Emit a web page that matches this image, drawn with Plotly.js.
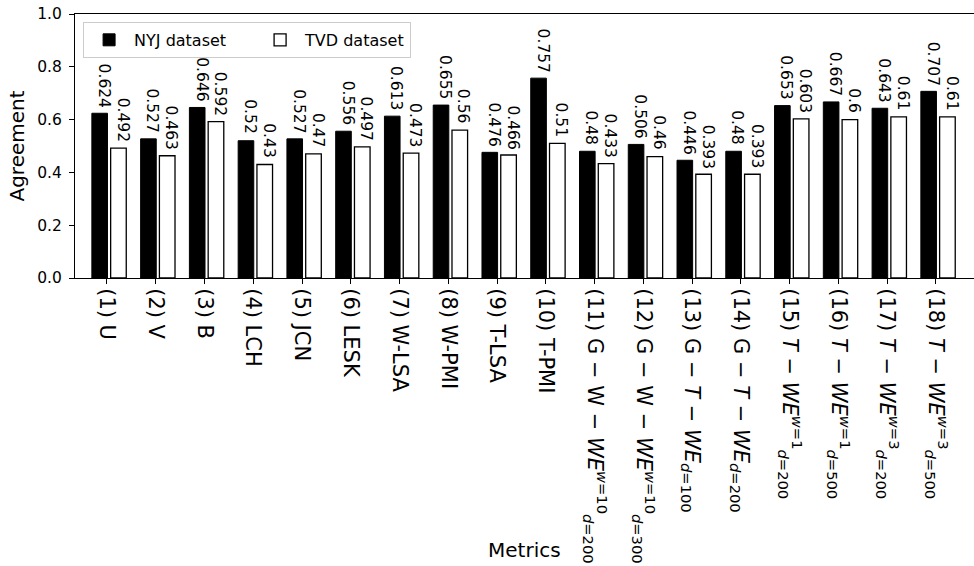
<!DOCTYPE html>
<html>
<head>
<meta charset="utf-8">
<script src="https://cdn.plot.ly/plotly-3.0.1.min.js"></script>
<style>html,body{margin:0;padding:0;background:#fff;}#chart{width:974px;height:566px;}</style>
</head>
<body>
<div id="chart"></div>
<script>
// Tick labels (metrics)
const metrics = [
  "(1) U", "(2) V", "(3) B", "(4) LCH", "(5) JCN", "(6) LESK",
  "(7) W-LSA", "(8) W-PMI", "(9) T-LSA", "(10) T-PMI",
  "(11) G − W − <i>WE</i><sup><i>w</i>=10</sup><sub><i>d</i>=200</sub>",
  "(12) G − W − <i>WE</i><sup><i>w</i>=10</sup><sub><i>d</i>=300</sub>",
  "(13) G − <i>T</i> − <i>WE</i><sub><i>d</i>=100</sub>",
  "(14) G − <i>T</i> − <i>WE</i><sub><i>d</i>=200</sub>",
  "(15) <i>T</i> − <i>WE</i><sup><i>w</i>=1</sup><sub><i>d</i>=200</sub>",
  "(16) <i>T</i> − <i>WE</i><sup><i>w</i>=1</sup><sub><i>d</i>=500</sub>",
  "(17) <i>T</i> − <i>WE</i><sup><i>w</i>=3</sup><sub><i>d</i>=200</sub>",
  "(18) <i>T</i> − <i>WE</i><sup><i>w</i>=3</sup><sub><i>d</i>=500</sub>"
];
// Series values
const nyj = [0.624, 0.527, 0.646, 0.52, 0.527, 0.556, 0.613, 0.655, 0.476, 0.757,
             0.48, 0.506, 0.446, 0.48, 0.653, 0.667, 0.643, 0.707];
const tvd = [0.492, 0.463, 0.592, 0.43, 0.47, 0.497, 0.473, 0.56, 0.466, 0.51,
             0.433, 0.46, 0.393, 0.393, 0.603, 0.6, 0.61, 0.61];
const seriesNames = ["NYJ dataset", "TVD dataset"];
const yTicks = [0.0, 0.2, 0.4, 0.6, 0.8, 1.0];

const pos = metrics.map((_, i) => i);
const FONT = "DejaVu Sans, sans-serif";
const BAR_W = 0.32;
const OFFS = [-0.31, 0.075];
const LEGEND_W = [116, 100];
const series = [nyj, tvd];

const traces = series.map((vals, k) => ({
  type: "bar",
  name: seriesNames[k],
  x: pos, y: vals,
  width: BAR_W, offset: OFFS[k],
  legendwidth: LEGEND_W[k],
  marker: k === 0
    ? {color: "#000000", line: {color: "#000000", width: 1}}
    : {color: "#ffffff", line: {color: "#000000", width: 1.3}},
  hoverinfo: "skip"
}));

// value labels above each bar, rotated to read top-to-bottom
const valueLabels = [];
series.forEach((vals, k) => {
  vals.forEach((v, i) => {
    valueLabels.push({
      x: pos[i] + OFFS[k] + BAR_W / 2, y: v, xref: "x", yref: "y",
      text: String(v), textangle: 90, showarrow: false,
      xanchor: "center", yanchor: "bottom", xshift: 4, yshift: 5,
      borderpad: 0,
      font: {family: FONT, size: 15.5, color: "#000"}
    });
  });
});

const layout = {
  width: 974, height: 566,
  margin: {l: 75, r: 0, t: 14, b: 288, pad: 0},
  paper_bgcolor: "#fff", plot_bgcolor: "#fff",
  barmode: "overlay",
  font: {family: FONT, color: "#000"},
  showlegend: true,
  legend: {
    orientation: "h", x: 0.009, y: 0.97, xanchor: "left", yanchor: "top",
    bordercolor: "#cccccc", borderwidth: 1, bgcolor: "rgba(255,255,255,0.8)",
    font: {family: FONT, size: 16, color: "#000"},
    traceorder: "normal", itemwidth: 40, entrywidthmode: "pixels"
  },
  xaxis: {
    range: [-0.656, 17.78],
    tickmode: "array", tickvals: pos, ticktext: metrics,
    tickangle: 90,
    tickfont: {family: FONT, size: 21, color: "#000"},
    ticks: "outside", ticklen: 5, tickwidth: 1, tickcolor: "#000",
    showline: true, linecolor: "#000", linewidth: 1, mirror: true,
    showgrid: false, zeroline: false, automargin: false
  },
  yaxis: {
    range: [0, 1.0],
    tickmode: "array", tickvals: yTicks, ticktext: yTicks.map(v => v.toFixed(1)),
    tickfont: {family: FONT, size: 15.5, color: "#000"},
    ticks: "outside", ticklen: 5, tickwidth: 1, tickcolor: "#000",
    ticklabelstandoff: 4,
    showline: true, linecolor: "#000", linewidth: 1, mirror: false,
    showgrid: false, zeroline: false, automargin: false,
    title: {text: "Agreement", font: {family: FONT, size: 20, color: "#000"}, standoff: 7}
  },
  annotations: valueLabels.concat([{
    text: "Metrics", xref: "paper", yref: "paper",
    x: 0.5, y: -(550 - 278) / 264, xanchor: "center", yanchor: "middle",
    showarrow: false, font: {family: FONT, size: 20, color: "#000"}
  }])
};

Plotly.newPlot("chart", traces, layout, {staticPlot: true, displayModeBar: false});
</script>
</body>
</html>
